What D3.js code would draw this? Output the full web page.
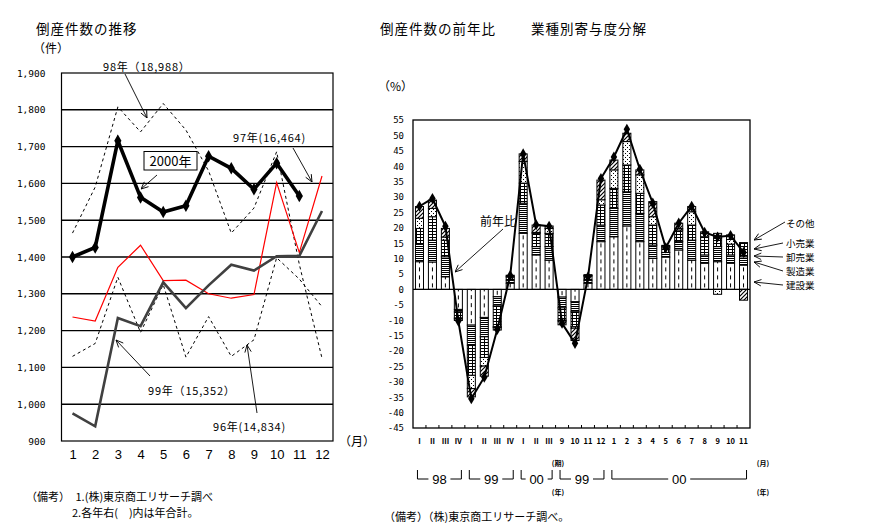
<!DOCTYPE html>
<html><head><meta charset="utf-8">
<script src="https://cdn.jsdelivr.net/npm/d3@7"></script>
<style>
body{margin:0;background:#fff;}
text{font-family:"Noto Sans CJK JP","DejaVu Sans",sans-serif;fill:#000;}
.mono{font-family:"DejaVu Sans Mono","Liberation Mono",monospace;}
</style></head><body>
<svg id="c" width="877" height="523"></svg>
<script>
// ---------- Left chart data (monthly bankruptcies) ----------
const months = [1,2,3,4,5,6,7,8,9,10,11,12];
const y2000 = [1400,1426,1716,1562,1522,1539,1674,1641,1584,1655,1566];
const y1999 = [975,940,1234,1212,1331,1261,1323,1379,1363,1402,1403,1525];
const y1998 = [1465,1590,1808,1740,1817,1745,1634,1465,1533,1686,1380,1125];
const y1997 = [1237,1226,1372,1432,1336,1337,1300,1288,1298,1602,1412,1620];
const y1996 = [1130,1165,1345,1195,1325,1128,1238,1130,1175,1398,1340,1265];
const leftTicks = [900,1000,1100,1200,1300,1400,1500,1600,1700,1800,1900];
const leftGrid = [1000,1100,1200,1300,1400,1500,1600,1700,1800];

// ---------- Right chart data (YoY contribution by industry, %) ----------
const periods = ["Ⅰ","Ⅱ","Ⅲ","Ⅳ","Ⅰ","Ⅱ","Ⅲ","Ⅳ","Ⅰ","Ⅱ","Ⅲ","9","10","11","12","1","2","3","4","5","6","7","8","9","10","11"];
const construction  = [9,8.9,4.1,-6.5,-11.6,-9.1,-2.4,2,18.2,11.2,9.5,-2.5,-4,2,15.5,17.1,20.6,15.5,10.1,10.5,12.8,9.5,8.5,9,8.5,7.9];
const manufacturing = [5.7,7.1,6.5,-0.8,-6.5,-6.3,-3,1,9.8,2.7,4.4,-3.5,-3.3,1,5.4,9.2,11.1,9.2,4.3,1.5,2.7,6.5,2.7,4.9,2.7,2.7];
const wholesale     = [5.1,7.6,5.4,-2,-9.8,-6.7,-6.7,1,6.5,4.3,4.3,-4,-4.8,1.3,6.5,6.5,8.7,6.5,6.5,1.5,3.8,4.9,5.9,2.7,3.5,4.6];
const retail        = [3.3,2.7,1,-0.3,-4.3,-2.8,-0.3,0.3,7,0.3,1.6,-0.3,-0.5,0.2,1.7,6,7.6,6,2.7,0.5,0.5,4.3,1.1,-1.6,1.5,0];
const other         = [3.8,2.7,2.8,-0.5,-2.7,-3.3,-0.8,0.3,2.5,2.4,0.8,-1.2,-4,0.3,6.4,3.2,2.7,1.6,4.9,0.3,1.7,1.7,0.5,1.6,1.5,-3.5];
const yoy           = [27,29.5,20.5,-10.3,-35.5,-28.5,-13,4.5,44,21,20.5,-11,-17.5,4,36,43,52,39,28,13.5,21.5,27,18.5,17,17.5,12];
const rightTicks = [55,50,45,40,35,30,25,20,15,10,5,0,-5,-10,-15,-20,-25,-30,-35,-40,-45];
const industries = ["建設業","製造業","卸売業","小売業","その他"];
const yearGroups = [{label:"98",from:0,to:3},{label:"99",from:4,to:7},{label:"00",from:8,to:10},{label:"99",from:11,to:14},{label:"00",from:15,to:25}];

const svg = d3.select("#c");
const defs = svg.append("defs");

// arrow marker
const mk = defs.append("marker").attr("id","arr").attr("viewBox","0 0 10 10")
  .attr("refX",10).attr("refY",5).attr("markerWidth",8).attr("markerHeight",8)
  .attr("markerUnits","userSpaceOnUse").attr("orient","auto");
mk.append("path").attr("d","M1,1 L10,5 L1,9").attr("fill","none").attr("stroke","#000").attr("stroke-width",1.1);

// patterns
const pStripe = defs.append("pattern").attr("id","pManu").attr("patternUnits","userSpaceOnUse").attr("width",4).attr("height",2);
pStripe.append("rect").attr("width",4).attr("height",2).attr("fill","#fff");
pStripe.append("rect").attr("width",4).attr("height",1).attr("fill","#000");
const pGrid = defs.append("pattern").attr("id","pWhole").attr("patternUnits","userSpaceOnUse").attr("width",4).attr("height",3);
pGrid.append("rect").attr("width",4).attr("height",3).attr("fill","#000");
pGrid.append("rect").attr("x",1).attr("y",1).attr("width",3).attr("height",2).attr("fill","#fff");
const pDot = defs.append("pattern").attr("id","pRetail").attr("patternUnits","userSpaceOnUse").attr("width",4).attr("height",4);
pDot.append("rect").attr("width",4).attr("height",4).attr("fill","#fff");
pDot.append("rect").attr("x",1).attr("y",1).attr("width",1).attr("height",1).attr("fill","#000");
pDot.append("rect").attr("x",3).attr("y",3).attr("width",1).attr("height",1).attr("fill","#000");
const pHatch = defs.append("pattern").attr("id","pOther").attr("patternUnits","userSpaceOnUse").attr("width",4).attr("height",4);
pHatch.append("rect").attr("width",4).attr("height",4).attr("fill","#fff");
pHatch.append("path").attr("d","M-1,1 L1,-1 M0,4 L4,0 M3,5 L5,3").attr("stroke","#000").attr("stroke-width",1.2);
const fills = ["#fff","url(#pManu)","url(#pWhole)","url(#pRetail)","url(#pOther)"];

// ================= LEFT CHART =================
const L = {x0:61.5, x1:333, y0:73, y1:441};
const xL = d3.scalePoint().domain(months).range([72.5,322]);
const yL = d3.scaleLinear().domain([900,1900]).range([L.y1,L.y0]);

svg.append("text").attr("x",36).attr("y",34).style("font-size","13.5px").style("letter-spacing","1px").text("倒産件数の推移");
svg.append("text").attr("x",33).attr("y",53).style("font-size","12px").text("（件）");

const gL = svg.append("g");
gL.selectAll("line.grid").data(leftGrid).join("line")
  .attr("x1",L.x0).attr("x2",L.x1).attr("y1",d=>yL(d)).attr("y2",d=>yL(d))
  .attr("stroke","#000").attr("stroke-width",1.4);
gL.append("rect").attr("x",L.x0).attr("y",L.y0).attr("width",L.x1-L.x0).attr("height",L.y1-L.y0)
  .attr("fill","none").attr("stroke","#000").attr("stroke-width",1.2);

const axL = svg.append("g").attr("transform",`translate(${L.x0},0)`)
  .call(d3.axisLeft(yL).tickValues(leftTicks).tickFormat(d3.format(",")).tickSize(0).tickPadding(16));
axL.select(".domain").remove();
axL.selectAll("text").attr("class","mono").style("font-size","9.5px").style("font-family","DejaVu Sans Mono");

const axLx = svg.append("g").attr("transform",`translate(0,450)`)
  .call(d3.axisBottom(xL).tickSize(0).tickPadding(0));
axLx.select(".domain").remove();
axLx.selectAll("text").style("font-size","13px").style("font-family","Liberation Sans Narrow, Liberation Sans, sans-serif");
svg.append("text").attr("x",339).attr("y",446).style("font-size","12px").text("（月）");

const lineL = d3.line().x((d,i)=>xL(months[i])).y(d=>yL(d));
const gLines = svg.append("g").attr("fill","none");
gLines.append("path").attr("d",lineL(y1996)).attr("stroke","#000").attr("stroke-width",1).attr("stroke-dasharray","3,3");
gLines.append("path").attr("d",lineL(y1998)).attr("stroke","#000").attr("stroke-width",1).attr("stroke-dasharray","3,3");
gLines.append("path").attr("d",lineL(y1997)).attr("stroke","#ff0000").attr("stroke-width",1.2);
gLines.append("path").attr("d",lineL(y1999)).attr("stroke","#404040").attr("stroke-width",2.6);
gLines.append("path").attr("d",lineL(y2000)).attr("stroke","#000").attr("stroke-width",3.6);
svg.append("g").selectAll("path").data(y2000).join("path")
  .attr("transform",(d,i)=>`translate(${xL(months[i])},${yL(d)})`)
  .attr("d",d3.symbol(d3.symbolDiamond,45)).attr("fill","#000");

// annotations left
function arrow(x1,y1,x2,y2,w){
  svg.append("line").attr("x1",x1).attr("y1",y1).attr("x2",x2).attr("y2",y2)
    .attr("stroke","#000").attr("stroke-width",w||0.9).attr("marker-end","url(#arr)");
}
svg.append("text").attr("x",103).attr("y",71).style("font-size","11px").style("letter-spacing","0.8px").text("98年（18,988）");
arrow(125,74,147,118);
svg.append("text").attr("x",233).attr("y",142).style("font-size","11px").style("letter-spacing","0.8px").text("97年(16,464)");
arrow(293,148,312,182);
svg.append("rect").attr("x",144).attr("y",151.5).attr("width",53).attr("height",18.5).attr("fill","#fff").attr("stroke","#000");
svg.append("text").attr("x",170.5).attr("y",166).attr("text-anchor","middle").style("font-size","13px").text("2000年");
arrow(157,175,141,189);
svg.append("text").attr("x",148).attr("y",395).style("font-size","11px").style("letter-spacing","0.8px").text("99年（15,352）");
arrow(150,376,116,340);
svg.append("text").attr("x",213).attr("y",431).style("font-size","11px").style("letter-spacing","0.8px").text("96年(14,834)");
arrow(257,413,247,345);

svg.append("text").attr("x",26).attr("y",501).style("font-size","11px").text("（備考）　1.(株)東京商工リサーチ調べ");
svg.append("text").attr("x",72).attr("y",517).style("font-size","11px").text("2.各年右(　)内は年合計。");

// ================= RIGHT CHART =================
const R = {x0:413, x1:750, y0:120, y1:428};
const xR = d3.scaleBand().domain(d3.range(periods.length)).range([R.x0,R.x1]).paddingInner(0.38).paddingOuter(0.19);
const yR = d3.scaleLinear().domain([-45,55]).range([R.y1,R.y0]);

svg.append("text").attr("x",380).attr("y",34).style("font-size","13.5px").style("letter-spacing","1px").text("倒産件数の前年比");
svg.append("text").attr("x",531).attr("y",34).style("font-size","13.5px").style("letter-spacing","1px").text("業種別寄与度分解");
svg.append("text").attr("x",378).attr("y",91).style("font-size","12px").text("（%）");

const axR = svg.append("g").attr("transform",`translate(${R.x0},0)`)
  .call(d3.axisLeft(yR).tickValues(rightTicks).tickFormat(d=>String(d)).tickSize(0).tickPadding(9));
axR.select(".domain").remove();
axR.selectAll("text").style("font-size","9px").style("font-family","DejaVu Sans Mono");

// stacked bars
const rows = periods.map((p,i)=>({i, "建設業":construction[i],"製造業":manufacturing[i],"卸売業":wholesale[i],"小売業":retail[i],"その他":other[i]}));
const series = d3.stack().keys(industries).offset(d3.stackOffsetDiverging)(rows);
const gB = svg.append("g");
series.forEach((s,k)=>{
  gB.append("g").selectAll("rect").data(s).join("rect")
    .attr("x",d=>xR(d.data.i)).attr("width",xR.bandwidth())
    .attr("y",d=>yR(Math.max(d[0],d[1]))).attr("height",d=>Math.abs(yR(d[0])-yR(d[1])))
    .attr("fill",fills[k]).attr("stroke","#000").attr("stroke-width",1);
  if(k===0){
    gB.append("g").selectAll("line").data(s).join("line")
      .attr("x1",d=>xR(d.data.i)+xR.bandwidth()/2).attr("x2",d=>xR(d.data.i)+xR.bandwidth()/2)
      .attr("y1",d=>yR(d[0])).attr("y2",d=>yR(d[1]))
      .attr("stroke","#000").attr("stroke-width",1).attr("stroke-dasharray","4,4").attr("stroke-dashoffset",-2);
  }
});

// zero line and frame
svg.append("line").attr("x1",R.x0).attr("x2",R.x1).attr("y1",yR(0)).attr("y2",yR(0)).attr("stroke","#000").attr("stroke-width",1.2);
svg.append("rect").attr("x",R.x0).attr("y",R.y0).attr("width",R.x1-R.x0).attr("height",R.y1-R.y0)
  .attr("fill","none").attr("stroke","#000").attr("stroke-width",1.3);
// bottom ticks at slot boundaries
svg.append("g").selectAll("line").data(d3.range(1,periods.length)).join("line")
  .attr("x1",d=>R.x0+d*xR.step()).attr("x2",d=>R.x0+d*xR.step())
  .attr("y1",R.y1).attr("y2",R.y1-3).attr("stroke","#000");

// yoy line
const lineR = d3.line().x((d,i)=>xR(i)+xR.bandwidth()/2).y(d=>yR(d));
svg.append("path").attr("d",lineR(yoy)).attr("fill","none").attr("stroke","#000").attr("stroke-width",2);
svg.append("g").selectAll("path").data(yoy).join("path")
  .attr("transform",(d,i)=>`translate(${xR(i)+xR.bandwidth()/2},${yR(d)})`)
  .attr("d",d3.symbol(d3.symbolDiamond,36)).attr("fill","#000");

// x labels
const axRx = svg.append("g").attr("transform",`translate(0,439)`)
  .call(d3.axisBottom(xR).tickFormat(i=>periods[i]).tickSize(0).tickPadding(0));
axRx.select(".domain").remove();
axRx.selectAll("text").style("font-size","7.5px").style("font-weight","bold");

svg.append("text").attr("x",558).attr("y",466).attr("text-anchor","middle").style("font-size","7px").style("font-weight","bold").text("(期)");
svg.append("text").attr("x",763).attr("y",466).attr("text-anchor","middle").style("font-size","7px").style("font-weight","bold").text("(月)");
svg.append("text").attr("x",558).attr("y",495).attr("text-anchor","middle").style("font-size","7px").style("font-weight","bold").text("(年)");
svg.append("text").attr("x",763).attr("y",495).attr("text-anchor","middle").style("font-size","7px").style("font-weight","bold").text("(年)");

// year brackets
const gY = svg.append("g");
yearGroups.forEach(g=>{
  const a = xR(g.from)+2, b = xR(g.to)+xR.bandwidth()-1, m=(a+b)/2, yb=479, yt=470;
  const half = g.label.length*4+3;
  gY.append("path").attr("d",`M${a},${yt} V${yb} H${m-half} M${m+half},${yb} H${b} V${yt}`)
    .attr("fill","none").attr("stroke","#000").attr("stroke-width",1);
  gY.append("text").attr("x",m).attr("y",483.5).attr("text-anchor","middle")
    .style("font-size","13px").style("font-family","Liberation Sans Narrow, Liberation Sans, sans-serif").text(g.label);
});

// annotations right
svg.append("text").attr("x",480).attr("y",226).style("font-size","12px").text("前年比");
arrow(503,229,455,272);
const legY = [{t:"その他",y:227,ax:785,ay:222,bx:754,by:240},
              {t:"小売業",y:247,ax:783,ay:243,bx:754,by:249},
              {t:"卸売業",y:261,ax:783,ay:257,bx:754,by:256},
              {t:"製造業",y:275,ax:783,ay:271,bx:754,by:262},
              {t:"建設業",y:289,ax:783,ay:285,bx:754,by:282}];
legY.forEach(l=>{
  svg.append("text").attr("x",786).attr("y",l.y).style("font-size","9.5px").text(l.t);
  arrow(l.ax,l.ay,l.bx,l.by);
});

svg.append("text").attr("x",384).attr("y",521).style("font-size","11px").text("（備考）（株)東京商工リサーチ調べ。");
</script>
</body></html>
